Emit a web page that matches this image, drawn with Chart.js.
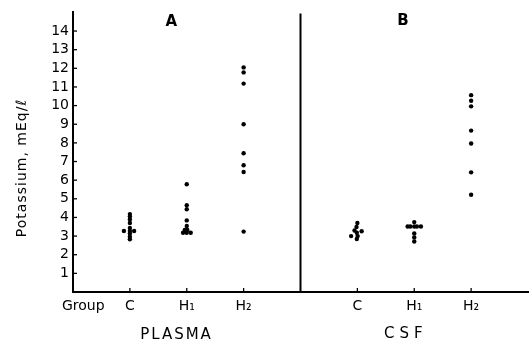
<!DOCTYPE html>
<html><head><meta charset="utf-8">
<script src="https://cdn.jsdelivr.net/npm/chart.js@4"></script>
<style>html,body{margin:0;padding:0;background:#fff}</style>
</head><body>
<canvas id="c" width="532" height="349"></canvas>
<script>
// ---- data ----
const groupLabels = ['C', 'H\u2081', 'H\u2082', 'C', 'H\u2081', 'H\u2082'];
const groupPos = [1, 2, 3, 5, 6, 7];
const sectionTitles = ['A', 'B'];
const sectionNames = ['PLASMA', 'CSF'];
const yTickLabels = ['1','2','3','4','5','6','7','8','9','10','11','12','13','14'];
const yTitle = 'Potassium, mEq/\u2113';
const xGroupWord = 'Group';

const plasmaC  = [4.18, 4.05, 3.89, 3.70, 3.44, 3.27, 3.27, 3.27, 3.14, 2.97, 2.83];
const plasmaCJitter  = [0, 0, 0, 0, 0, -0.105, 0, 0.075, 0, 0, 0];
const plasmaH1 = [5.78, 4.66, 4.44, 3.84, 3.54, 3.33, 3.33, 3.18, 3.18, 3.18];
const plasmaH1Jitter = [0, 0, 0, 0, 0, -0.035, 0.01, -0.065, 0, 0.07];
const plasmaH2 = [12.05, 11.78, 11.18, 9.0, 7.44, 6.8, 6.44, 3.24];
const plasmaH2Jitter = [0, 0, 0, 0, 0, 0, 0, 0];
const csfC  = [3.70, 3.49, 3.30, 3.26, 3.18, 3.00, 3.00, 2.84];
const csfCJitter  = [0, -0.015, -0.05, 0.075, -0.01, -0.11, 0.005, -0.01];
const csfH1 = [3.75, 3.51, 3.51, 3.51, 3.51, 3.51, 3.14, 2.93, 2.71];
const csfH1Jitter = [0, -0.117, -0.07, 0, 0.047, 0.117, 0, 0, 0];
const csfH2 = [10.56, 10.26, 9.96, 8.66, 7.97, 6.42, 5.22];
const csfH2Jitter = [0, 0, 0, 0, 0, 0, 0];

const seriesList = [
  [plasmaC, plasmaCJitter, 0], [plasmaH1, plasmaH1Jitter, 1], [plasmaH2, plasmaH2Jitter, 2],
  [csfC, csfCJitter, 3], [csfH1, csfH1Jitter, 4], [csfH2, csfH2Jitter, 5]
];

const FONT = "'DejaVu Sans', sans-serif";

const datasets = seriesList.map(([vals, jit, gi]) => ({
  data: vals.map((v, i) => ({ x: groupPos[gi] + jit[i], y: v })),
  pointRadius: 2.2,
  pointBackgroundColor: '#000',
  pointBorderWidth: 0,
  showLine: false
}));

const decor = {
  id: 'decor',
  afterDraw(chart) {
    const ctx = chart.ctx, xs = chart.scales.x, ys = chart.scales.y, ca = chart.chartArea;
    ctx.save();
    ctx.strokeStyle = '#000';
    ctx.fillStyle = '#000';
    // divider between sections
    const dx = xs.getPixelForValue(4);
    ctx.lineWidth = 2;
    ctx.beginPath(); ctx.moveTo(dx, ca.top + 1); ctx.lineTo(dx, ca.bottom); ctx.stroke();
    // inward y ticks
    ctx.lineWidth = 1.3;
    yTickLabels.forEach((t, i) => {
      const y = ys.getPixelForValue(i + 1);
      ctx.beginPath(); ctx.moveTo(ca.left, y); ctx.lineTo(ca.left + 4, y); ctx.stroke();
    });
    // upward x ticks
    groupPos.forEach(v => {
      const x = xs.getPixelForValue(v);
      ctx.beginPath(); ctx.moveTo(x, ca.bottom); ctx.lineTo(x, ca.bottom - 4); ctx.stroke();
    });
    // "Group"
    ctx.font = '14px ' + FONT;
    ctx.textAlign = 'left'; ctx.textBaseline = 'middle';
    ctx.fillText(xGroupWord, 62, 306);
    // section names
    ctx.textAlign = 'center';
    ctx.font = '15px ' + FONT;
    ctx.letterSpacing = '2px';
    ctx.fillText(sectionNames[0], xs.getPixelForValue(1.82), 335);
    ctx.letterSpacing = '5px';
    ctx.fillText(sectionNames[1], xs.getPixelForValue(5.85), 334);
    ctx.letterSpacing = '0px';
    // section titles
    ctx.font = 'bold 15px ' + FONT;
    ctx.fillText(sectionTitles[0], xs.getPixelForValue(1.73), 22);
    ctx.fillText(sectionTitles[1], xs.getPixelForValue(5.8), 21);
    // y title
    ctx.font = '14px ' + FONT;
    ctx.letterSpacing = '1px';
    ctx.translate(22, 168);
    ctx.rotate(-Math.PI / 2);
    ctx.fillText(yTitle, 0, 0);
    ctx.restore();
  }
};

new Chart(document.getElementById('c'), {
  type: 'scatter',
  data: { datasets },
  options: {
    responsive: false,
    animation: false,
    devicePixelRatio: 1,
    layout: { padding: { top: 4, right: 1, left: 0, bottom: 0 } },
    plugins: { legend: { display: false }, tooltip: { enabled: false } },
    scales: {
      x: {
        type: 'linear', min: 0, max: 8,
        afterBuildTicks: s => { s.ticks = groupPos.map(v => ({ value: v })); },
        afterFit: s => { s.height = 57; },
        grid: { display: false, drawTicks: false },
        border: { display: true, color: '#000', width: 2 },
        ticks: {
          callback: (v, i) => groupLabels[i],
          color: '#000', font: { family: FONT, size: 14 },
          padding: 6, maxRotation: 0, autoSkip: false
        }
      },
      y: {
        min: 0, max: 15,
        afterFit: s => { s.width = 73; },
        grid: { display: false, drawTicks: false },
        border: { display: true, color: '#000', width: 2 },
        ticks: {
          stepSize: 1, autoSkip: false,
          callback: v => (v >= 1 && v <= yTickLabels.length) ? yTickLabels[v - 1] : '',
          color: '#000', font: { family: FONT, size: 14 },
          padding: 4
        }
      }
    }
  },
  plugins: [decor]
});
</script>
</body></html>
